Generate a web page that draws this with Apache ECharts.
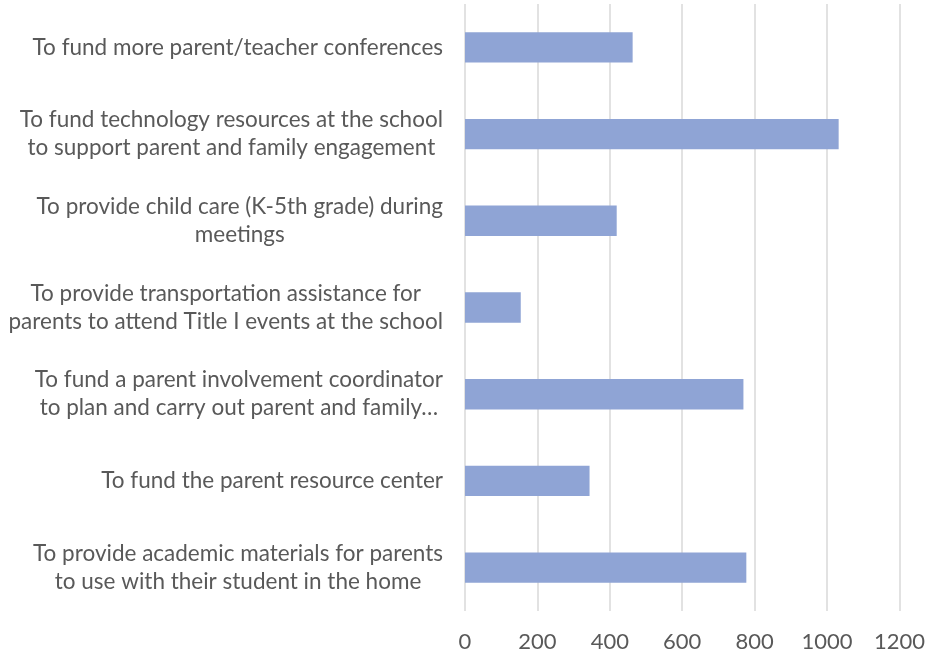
<!DOCTYPE html>
<html>
<head>
<meta charset="utf-8">
<script src="https://cdn.jsdelivr.net/npm/echarts@6/dist/echarts.min.js"></script>
<style>
    html, body { margin: 0; padding: 0; background: #fff; }
    #chart { width: 928px; height: 658px; }
</style>
</head>
<body>
<div id="chart"></div>
<script>
// categories, top to bottom as they appear
var categories = [
    'To fund more parent/teacher conferences',
    'To fund technology resources at the school\nto support parent and family engagement',
    'To provide child care (K-5th grade) during\nmeetings',
    'To provide transportation assistance for\nparents to attend Title I events at the school',
    'To fund a parent involvement coordinator\nto plan and carry out parent and family\u2026',
    'To fund the parent resource center',
    'To provide academic materials for parents\nto use with their student in the home'
];
var values = [463, 1032, 419, 154, 769, 344, 777];
var xTicks = [0, 200, 400, 600, 800, 1000, 1200];

var fontFamily = 'Lato, "Noto Sans", sans-serif';
var myChart = echarts.init(document.getElementById('chart'));

var option = {
    animation: false,
    grid: {
        left: 465,
        right: 28,
        top: 4,
        bottom: 47,
        containLabel: false
    },
    xAxis: {
        type: 'value',
        min: xTicks[0],
        max: xTicks[xTicks.length - 1],
        interval: 200,
        axisLine: { show: false },
        axisTick: { show: false },
        splitLine: {
            show: true,
            lineStyle: { color: '#D9D9D9', width: 1.5 }
        },
        axisLabel: {
            color: '#595959',
            fontSize: 22,
            fontFamily: fontFamily,
            margin: 20,
            formatter: function (v) { return String(v); }
        }
    },
    yAxis: {
        type: 'category',
        inverse: true,
        data: categories,
        axisLine: { show: false },
        axisTick: { show: false },
        axisLabel: {
            margin: 22,
            align: 'right',
            formatter: function (val) {
                // each line centred inside the label block
                return val.split('\n').map(function (l) {
                    return '{c|' + l + '}';
                }).join('\n');
            },
            rich: {
                c: {
                    align: 'center',
                    color: '#595959',
                    fontSize: 22.5,
                    lineHeight: 28,
                    fontFamily: fontFamily
                }
            }
        }
    },
    series: [{
        type: 'bar',
        data: values,
        barWidth: '35%',
        itemStyle: {
            color: '#8FA4D5'
        }
    }]
};

myChart.setOption(option);
</script>
</body>
</html>
